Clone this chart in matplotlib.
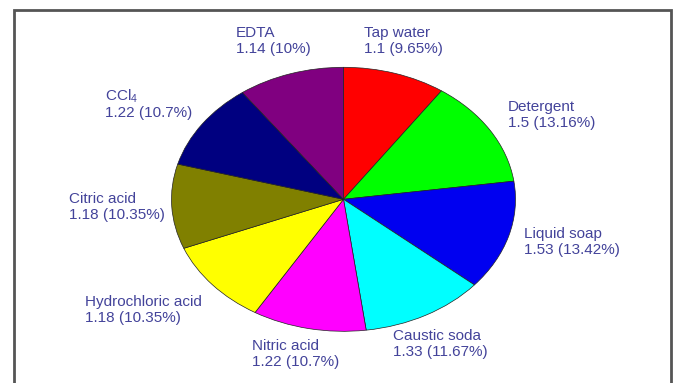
import matplotlib
matplotlib.use('Agg')
import matplotlib.pyplot as plt
from matplotlib.patches import Rectangle

# data, clockwise from 12 o'clock
labels = ['Tap water', 'Detergent', 'Liquid soap', 'Caustic soda', 'Nitric acid',
          'Hydrochloric acid', 'Citric acid', 'CCl$_4$', 'EDTA']
values = [1.1, 1.5, 1.53, 1.33, 1.22, 1.18, 1.18, 1.22, 1.14]
percents = ['9.65%', '13.16%', '13.42%', '11.67%', '10.7%', '10.35%', '10.35%', '10.7%', '10%']
colors = ['#ff0000', '#00ff00', '#0000f0', '#00ffff', '#ff00ff',
          '#ffff00', '#808000', '#000080', '#800080']

# label anchors in pixels (left edge, vertical middle of the two lines)
label_px = [(364, 41), (508, 115), (524, 242), (393, 344), (252, 354),
            (85, 310), (69, 207), (105, 104), (236, 41)]

W, H = 676, 383
plt.rcParams['font.family'] = ['Liberation Sans', 'DejaVu Sans']
plt.rcParams['mathtext.fontset'] = 'custom'
plt.rcParams['mathtext.rm'] = 'Liberation Sans'
plt.rcParams['mathtext.it'] = 'Liberation Sans'

fig = plt.figure(figsize=(W / 100, H / 100), dpi=100)
ax = fig.add_axes([0, 0, 1, 1])

ax.pie(values, colors=colors, startangle=90, counterclock=False,
       wedgeprops=dict(edgecolor='#222222', linewidth=0.5))
ax.set_aspect('auto')

# pie centre and radii in pixels -> axis limits
cx, cy, rx, ry = 343.5, 199.3, 172, 132
ax.set_xlim(-cx / rx, (W - cx) / rx)
ax.set_ylim(-(H - cy) / ry, cy / ry)
ax.axis('off')

for lab, v, p, (px, py) in zip(labels, values, percents, label_px):
    fig.text(px / W, 1 - py / H, f'{lab}\n{v:g} ({p})', ha='left', va='center',
             fontsize=11, color='#43439a', linespacing=1.1)

# outer frame
fig.patches.append(Rectangle((14 / W, -0.02), (671 - 14) / W, 1 - 10 / H + 0.02,
                             transform=fig.transFigure, fill=False,
                             edgecolor='#555555', linewidth=2))

fig.savefig('out.png', dpi=100, facecolor='white')
